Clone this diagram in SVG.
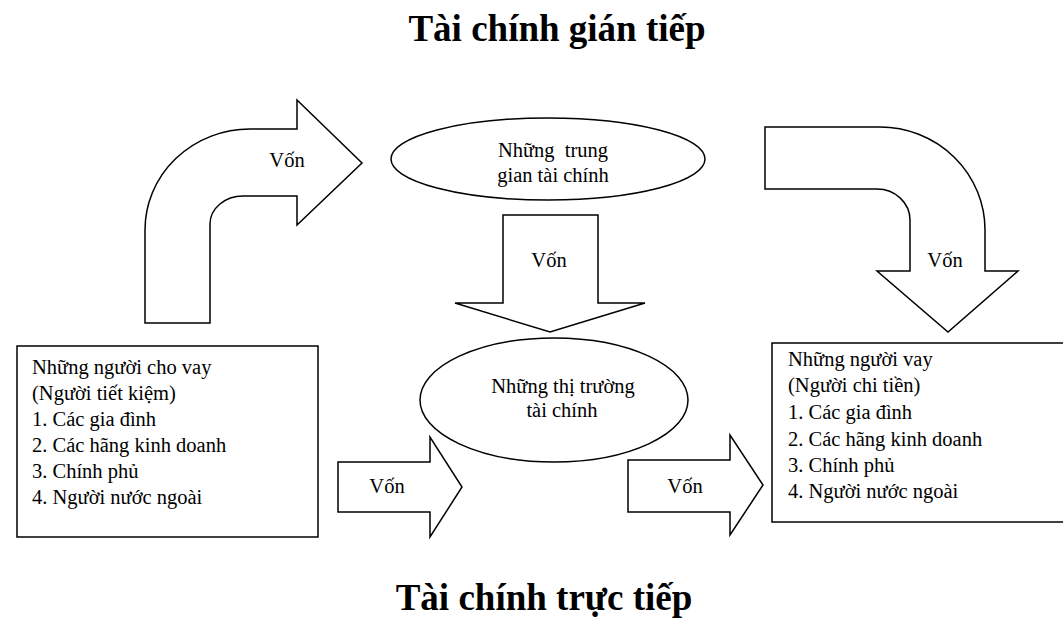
<svg xmlns="http://www.w3.org/2000/svg" width="1063" height="624" viewBox="0 0 1063 624">
<style>
.shape{fill:#fff;stroke:#000;stroke-width:1.5;stroke-linejoin:miter}
.t{font-family:"Liberation Serif","Times New Roman",serif;font-size:20.5px;fill:#000}
.c{text-anchor:middle}
.title{font-family:"Liberation Serif","Times New Roman",serif;font-size:37px;font-weight:bold;fill:#000;text-anchor:middle}
</style>
<rect width="1063" height="624" fill="#fff"/>
<text class="title" x="557" y="41">Tài chính gián tiếp</text>
<text class="title" x="544" y="610">Tài chính trực tiếp</text>
<g id="connectors">
<g id="arrow-curved-left">
<path class="shape" d="M145,323 L145,230 A105,101 0 0 1 250,129 L297,129 L297,100 L362,163 L297,225 L297,196 L243,196 A33,28 0 0 0 210,224 L210,323 Z"/>
<text class="t c" x="287" y="167">Vốn</text>
</g>
<g id="arrow-down-middle">
<path class="shape" d="M503,215 L598,215 L598,303 L645,303 L550,332 L455,303 L503,303 Z"/>
<text class="t c" x="549" y="267">Vốn</text>
</g>
<g id="arrow-curved-right">
<path class="shape" d="M765,127 L880,127 A105,103 0 0 1 985,230 L985,271 L1018,271 L948,332 L877,271 L910,271 L910,220 A33,31 0 0 0 877,189 L765,189 Z"/>
<text class="t c" x="945" y="267">Vốn</text>
</g>
<g id="arrow-left-small">
<path class="shape" d="M338,462 L430,462 L430,437 L462,487 L430,537 L430,512 L338,512 Z"/>
<text class="t c" x="387" y="493">Vốn</text>
</g>
<g id="arrow-right-small">
<path class="shape" d="M628,460 L730,460 L730,435 L763,485 L730,535 L730,512 L628,512 Z"/>
<text class="t c" x="685" y="493">Vốn</text>
</g>
</g>
<g id="node-intermediaries">
<ellipse class="shape" cx="548" cy="159" rx="157" ry="41"/>
<text class="t c" x="553" y="157" xml:space="preserve">Những  trung</text>
<text class="t c" x="553" y="182">gian tài chính</text>
</g>
<g id="node-markets">
<ellipse class="shape" cx="554" cy="400" rx="134" ry="62"/>
<text class="t c" x="563" y="393">Những thị trường</text>
<text class="t c" x="562" y="417">tài chính</text>
</g>
<g id="node-lenders">
<rect class="shape" x="17" y="346" width="301" height="191"/>
<text class="t" x="32" y="374">Những người cho vay</text>
<text class="t" x="32" y="400">(Người tiết kiệm)</text>
<text class="t" x="32" y="426">1. Các gia đình</text>
<text class="t" x="32" y="452">2. Các hãng kinh doanh</text>
<text class="t" x="32" y="478">3. Chính phủ</text>
<text class="t" x="32" y="504">4. Người nước ngoài</text>
</g>
<g id="node-borrowers">
<rect class="shape" x="772" y="343" width="300" height="179"/>
<text class="t" x="788" y="366">Những người vay</text>
<text class="t" x="788" y="392">(Người chi tiền)</text>
<text class="t" x="788" y="419">1. Các gia đình</text>
<text class="t" x="788" y="446">2. Các hãng kinh doanh</text>
<text class="t" x="788" y="472">3. Chính phủ</text>
<text class="t" x="788" y="498">4. Người nước ngoài</text>
</g>
</svg>
